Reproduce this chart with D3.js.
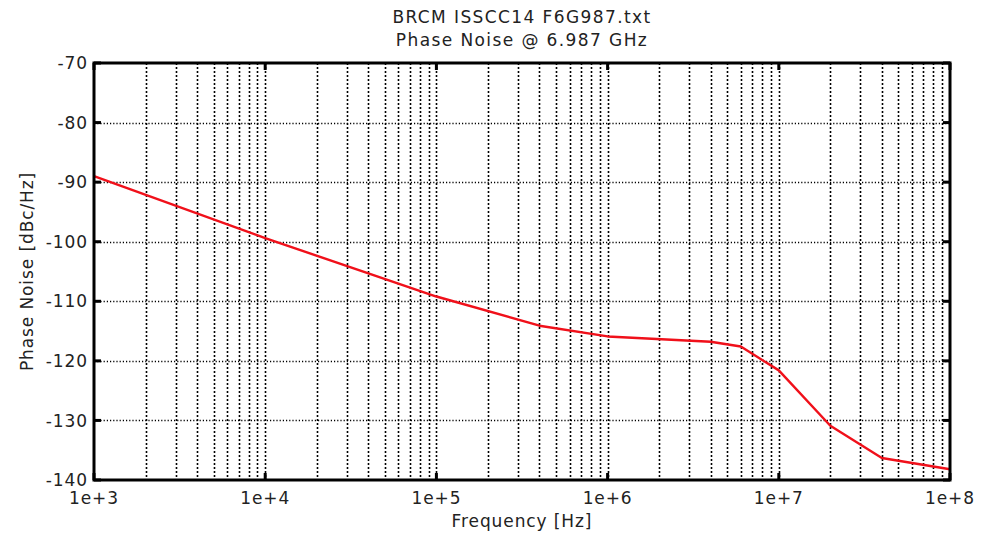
<!DOCTYPE html>
<html>
<head>
<meta charset="utf-8">
<script src="https://cdn.jsdelivr.net/npm/d3@7"></script>
<style>
  body { margin: 0; background: #fff; }
  text { font-family: "DejaVu Sans", Verdana, sans-serif; fill: #222; }
</style>
</head>
<body>
<div id="chart"></div>
<script>
// phase noise curve
var freqs = [1e3, 1e4, 1e5, 4e5, 1e6, 4e6, 6e6, 1e7, 2e7, 4e7, 1e8];
var noise = [-89, -99.4, -109.2, -114.1, -115.9, -116.8, -117.6, -121.6, -130.9, -136.3, -138.2];
var xTicks = [1e3, 1e4, 1e5, 1e6, 1e7, 1e8];
var yTicks = [-70, -80, -90, -100, -110, -120, -130, -140];
var titleLines = ["BRCM ISSCC14 F6G987.txt", "Phase Noise @ 6.987 GHz"];

var W = 990, H = 534;
var plot = {left: 94, right: 950, top: 63, bottom: 480};

var svg = d3.select("#chart").append("svg").attr("width", W).attr("height", H);

var x = d3.scaleLog().domain([1e3, 1e8]).range([plot.left, plot.right]);
var y = d3.scaleLinear().domain([-140, -70]).range([plot.bottom, plot.top]);

// grid: every 1..9 per decade on x, every 10 dB on y
var xGrid = [];
for (var d = 3; d < 8; d++) {
  for (var m = 1; m < 10; m++) {
    var v = m * Math.pow(10, d);
    if (v > 1e3 && v < 1e8) xGrid.push(v);
  }
}
svg.append("g").selectAll("line").data(xGrid).enter().append("line")
  .attr("x1", function(d) { return Math.round(x(d)) + 0.5; })
  .attr("x2", function(d) { return Math.round(x(d)) + 0.5; })
  .attr("y1", plot.top).attr("y2", plot.bottom)
  .attr("stroke", "#000").attr("stroke-width", 1.6)
  .attr("stroke-dasharray", "2,2");

svg.append("g").selectAll("line").data(yTicks.slice(1, -1)).enter().append("line")
  .attr("x1", plot.left).attr("x2", plot.right)
  .attr("y1", function(d) { return Math.round(y(d)) + 0.5; })
  .attr("y2", function(d) { return Math.round(y(d)) + 0.5; })
  .attr("stroke", "#000").attr("stroke-width", 1.6)
  .attr("stroke-dasharray", "1.2,2");

// curve
var line = d3.line()
  .x(function(d, i) { return x(freqs[i]); })
  .y(function(d) { return y(d); });
svg.append("path").datum(noise)
  .attr("d", line)
  .attr("fill", "none")
  .attr("stroke", "#f0101a")
  .attr("stroke-width", 2.4)
  .attr("stroke-linejoin", "round");

// major ticks, drawn inward on all four sides
var tk = svg.append("g").attr("stroke", "#000").attr("stroke-width", 3);
xTicks.forEach(function(t) {
  tk.append("line").attr("x1", x(t)).attr("x2", x(t)).attr("y1", plot.bottom).attr("y2", plot.bottom - 7);
  tk.append("line").attr("x1", x(t)).attr("x2", x(t)).attr("y1", plot.top).attr("y2", plot.top + 7);
});
yTicks.forEach(function(t) {
  tk.append("line").attr("x1", plot.left).attr("x2", plot.left + 7).attr("y1", y(t)).attr("y2", y(t));
  tk.append("line").attr("x1", plot.right).attr("x2", plot.right - 7).attr("y1", y(t)).attr("y2", y(t));
});

// frame
svg.append("rect")
  .attr("x", plot.left).attr("y", plot.top)
  .attr("width", plot.right - plot.left).attr("height", plot.bottom - plot.top)
  .attr("fill", "none").attr("stroke", "#000").attr("stroke-width", 3);

// tick labels
svg.append("g").selectAll("text").data(xTicks).enter().append("text")
  .attr("x", function(d) { return x(d); })
  .attr("y", 504)
  .attr("text-anchor", "middle")
  .style("font-size", "17px").style("letter-spacing", "0.9px")
  .text(function(d) { return "1e+" + Math.round(Math.log10(d)); });

svg.append("g").selectAll("text").data(yTicks).enter().append("text")
  .attr("x", 88)
  .attr("y", function(d) { return y(d); })
  .attr("dy", "0.36em")
  .attr("text-anchor", "end")
  .style("font-size", "17px").style("letter-spacing", "0.9px")
  .text(function(d) { return String(d); });

// titles
svg.append("g").selectAll("text").data(titleLines).enter().append("text")
  .attr("x", (plot.left + plot.right) / 2)
  .attr("y", function(d, i) { return 23 + i * 23; })
  .attr("text-anchor", "middle")
  .style("font-size", "17px").style("letter-spacing", "1.4px")
  .text(function(d) { return d; });

svg.append("text")
  .attr("x", (plot.left + plot.right) / 2)
  .attr("y", 527)
  .attr("text-anchor", "middle")
  .style("font-size", "17px").style("letter-spacing", "0.9px")
  .text("Frequency [Hz]");

svg.append("text")
  .attr("transform", "translate(33," + ((plot.top + plot.bottom) / 2) + ") rotate(-90)")
  .attr("text-anchor", "middle")
  .style("font-size", "17px").style("letter-spacing", "0.9px")
  .text("Phase Noise [dBc/Hz]");
</script>
</body>
</html>
